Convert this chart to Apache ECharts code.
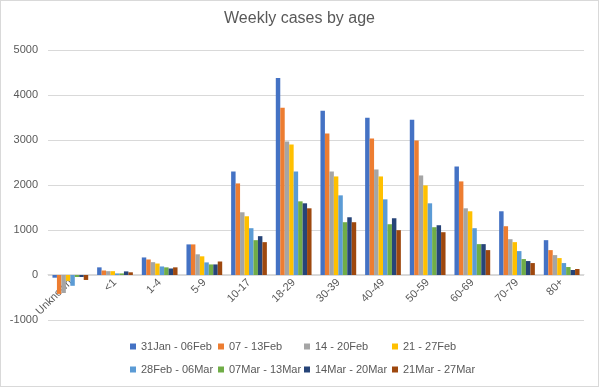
<!DOCTYPE html>
<html><head><meta charset="utf-8">
<script src="https://cdn.jsdelivr.net/npm/echarts@6/dist/echarts.min.js"></script>
<style>html,body{margin:0;padding:0;background:#fff}#c{width:599px;height:387px;box-sizing:border-box;border:1px solid #d9d9d9}</style>
</head><body><div id="c"></div>
<script>
const categories = ["Unknown","<1","1-4","5-9","10-17","18-29","30-39","40-49","50-59","60-69","70-79","80+"];
const seriesNames = ["31Jan - 06Feb","07 - 13Feb","14 - 20Feb","21 - 27Feb","28Feb - 06Mar","07Mar - 13Mar","14Mar - 20Mar","21Mar - 27Mar"];
const s1 = [-60,170,390,680,2300,4380,3650,3496,3451,2411,1416,774];
const s2 = [-420,100,345,680,2035,3717,3142,3031,2987,2080,1084,553];
const s3 = [-400,85,285,460,1394,2965,2300,2345,2212,1482,796,442];
const s4 = [-130,85,255,415,1305,2898,2190,2190,1991,1416,730,376];
const s5 = [-240,35,190,280,1040,2300,1770,1681,1593,1040,531,265];
const s6 = [-45,35,170,235,774,1637,1173,1128,1062,686,354,177];
const s7 = [-45,80,145,235,863,1593,1283,1261,1106,686,310,111];
const s8 = [-110,60,170,300,730,1482,1173,996,951,553,265,133];
const yTicks = {min:-1000,max:5000,interval:1000};
const values = [s1,s2,s3,s4,s5,s6,s7,s8];
const colors = ["#4472C4","#ED7D31","#A5A5A5","#FFC000","#5B9BD5","#70AD47","#264478","#9E480E"];
const txt = "#595959";
const chart = echarts.init(document.getElementById('c'));
const gridTop = 49, gridBottom = 66, H = 387;
const plotH = H - gridTop - gridBottom;
const zeroOffset = -plotH * (0 - yTicks.min) / (yTicks.max - yTicks.min);
const legendCols = [124, 212, 298, 386];
const legendRows = [335, 358];
const legends = seriesNames.map((n,i)=>({
  data:[n], left:legendCols[i%4], top:legendRows[Math.floor(i/4)],
  itemWidth:6,itemHeight:6,itemGap:5,icon:'rect',
  textStyle:{color:txt,fontSize:11,fontFamily:'Liberation Sans'}
}));
chart.setOption({
  animation:false,
  color:colors,
  title:{text:"Weekly cases by age",left:'center',top:5,textStyle:{color:txt,fontSize:16,fontWeight:'normal',fontFamily:'Liberation Sans'}},
  legend:legends,
  grid:{left:47,right:14,top:gridTop,bottom:gridBottom,containLabel:false},
  xAxis:{type:'category',data:categories,offset:zeroOffset,
    axisLine:{onZero:false,lineStyle:{color:'#d9d9d9'}},axisTick:{show:false},
    axisLabel:{rotate:45,color:txt,fontSize:11,fontFamily:'Liberation Sans',interval:0,margin:6}},
  yAxis:{type:'value',min:yTicks.min,max:yTicks.max,interval:yTicks.interval,
    axisLine:{show:false},axisTick:{show:false},
    splitLine:{lineStyle:{color:'#d9d9d9'}},
    axisLabel:{color:txt,fontSize:11,fontFamily:'Liberation Sans',margin:10,formatter:v=>String(v)}},
  series:values.map((v,i)=>({name:seriesNames[i],type:'bar',data:v,barGap:'0%',barCategoryGap:'20%'}))
});
</script></body></html>
